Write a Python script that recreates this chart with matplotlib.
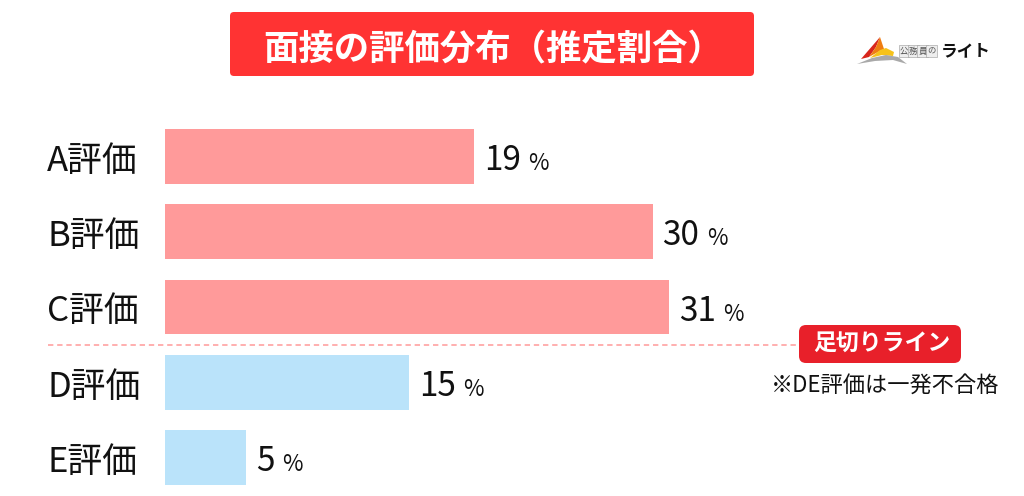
import matplotlib

matplotlib.use("Agg")
import matplotlib.pyplot as plt
from matplotlib.patches import FancyBboxPatch, Polygon
from matplotlib.transforms import Affine2D

plt.rcParams["font.family"] = ["Noto Sans CJK JP", "DejaVu Sans"]

# 面接評価ごとの推定割合 (%)
grades = ["A評価", "B評価", "C評価", "D評価", "E評価"]
shares = [19, 30, 31, 15, 5]
passed = [True, True, True, False, False]

title = "面接の評価分布（推定割合）"
cutoff_label = "足切りライン"
cutoff_note = "※DE評価は一発不合格"

PASS_COLOR = "#ff9a9a"
FAIL_COLOR = "#bae3fa"
TITLE_RED = "#ff3333"
BADGE_RED = "#e8202a"

W, H = 1024, 496
fig = plt.figure(figsize=(W / 100, H / 100), dpi=100)

# 画面全体を覆う軸: x は %、y は評価の行番号 (上から下)
ax = fig.add_axes([0, 0, 1, 1])
px_per_pct = 16.25
x0_px = 165
ax.set_xlim(-x0_px / px_per_pct, (W - x0_px) / px_per_pct)
row_px, top_px = 75.25, 156.5
ax.set_ylim((H - top_px) / row_px, -top_px / row_px)
ax.axis("off")

# ピクセル座標 (左上原点) 用の変換
px = Affine2D().scale(1 / W, -1 / H).translate(0, 1) + fig.transFigure

rows = list(range(len(grades)))
colors = [PASS_COLOR if p else FAIL_COLOR for p in passed]
ax.barh(rows, shares, height=0.73, color=colors, edgecolor="none")

for i, (g, v) in enumerate(zip(grades, shares)):
    ax.text(47 / px_per_pct - x0_px / px_per_pct, i + 0.19, g, fontsize=25,
            va="baseline", ha="left", color="#111111")
    num = ax.text(v + 0.62, i + 0.18, str(v), fontsize=24, va="baseline",
                  ha="left", color="#111111")
    ax.annotate("%", xy=(1, i + 0.18), xycoords=(num, "data"),
                xytext=(5.5, 0), textcoords="offset points", fontsize=16,
                va="baseline", ha="left", color="#111111")

# 足切りライン (C と D の間)
cut_y = (rows[2] + rows[3]) / 2
ax.plot([(48 - x0_px) / px_per_pct, (800 - x0_px) / px_per_pct], [cut_y, cut_y],
        color=PASS_COLOR, lw=1.1, ls=(0, (3.5, 2.5)), zorder=1)

badge = FancyBboxPatch((805, 331), 150, 26, boxstyle="round,pad=6,rounding_size=7",
                       transform=px, facecolor=BADGE_RED, edgecolor="none")
fig.add_artist(badge)
fig.text(882, 351, cutoff_label, transform=px, fontsize=16.5, fontweight="bold",
         color="white", ha="center", va="baseline")
fig.text(885, 392, cutoff_note, transform=px, fontsize=16, color="#111111",
         ha="center", va="baseline")

# タイトル
title_box = FancyBboxPatch((233, 15), 518, 58, boxstyle="round,pad=3,rounding_size=4",
                           transform=px, facecolor=TITLE_RED, edgecolor="none")
fig.add_artist(title_box)
fig.text(493, 60, title, transform=px, fontsize=25.5, fontweight="bold",
         color="white", ha="center", va="baseline")

# ロゴ
logo_shapes = [
    ([(880, 37), (861, 59), (869, 57), (876, 47)], "#d8261c"),
    ([(880, 37), (876, 47), (869, 57), (878, 52), (884, 49)], "#ef7d12"),
    ([(870, 58), (880, 50), (886, 48), (894, 52), (893, 56), (882, 55)], "#f6c21a"),
    ([(857, 64), (872, 58), (886, 55), (898, 57), (907, 64), (893, 60), (875, 61)], "#a9a9a9"),
]
for pts, c in logo_shapes:
    fig.add_artist(Polygon(pts, closed=True, transform=px, facecolor=c, edgecolor="none"))
for k, ch in enumerate("公務員の"):
    fig.text(904 + k * 9.3, 53.5, ch, transform=px, fontsize=6, color="#555555",
             ha="center", va="baseline",
             bbox=dict(boxstyle="square,pad=0.15", facecolor="#eeeeee",
                       edgecolor="#999999", lw=0.4))
fig.text(941, 56, "ライト", transform=px, fontsize=12, fontweight="bold",
         color="#111111", ha="left", va="baseline")

fig.savefig("out.png", dpi=100, facecolor="white")
